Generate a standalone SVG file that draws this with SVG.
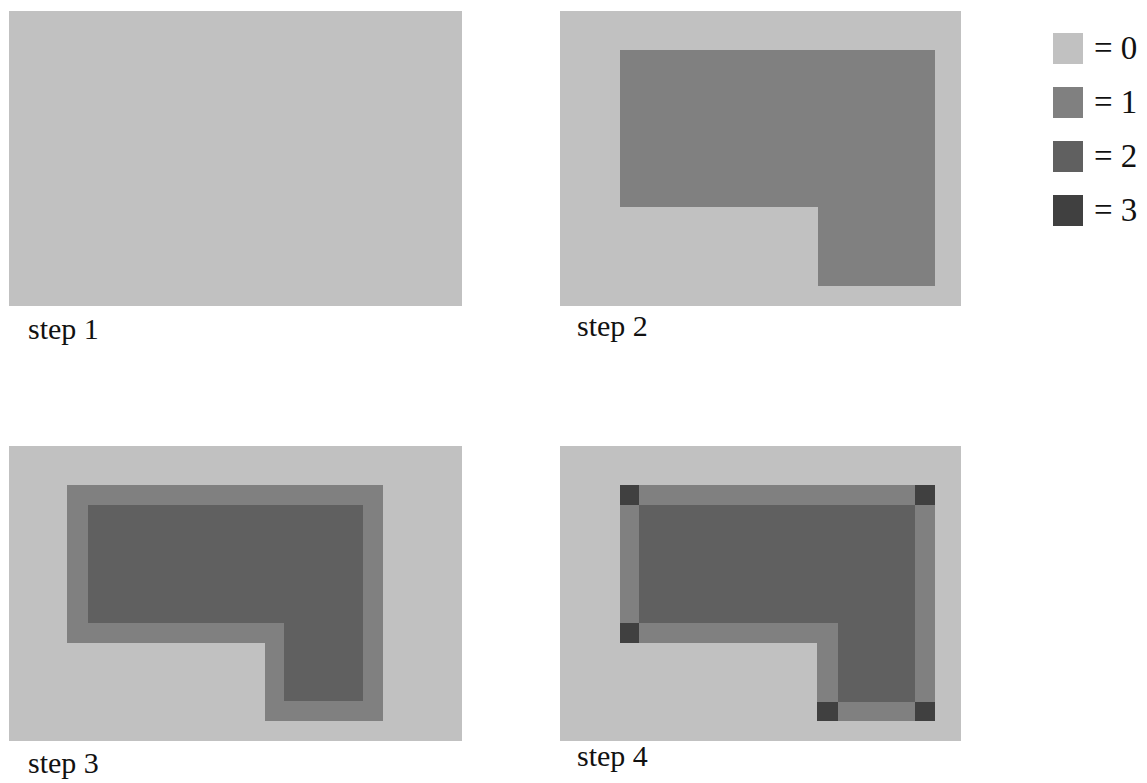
<svg xmlns="http://www.w3.org/2000/svg" width="1147" height="783" viewBox="0 0 1147 783">
<style>
.l0{fill:#c1c1c1}
.l1{fill:#808080}
.l2{fill:#606060}
.l3{fill:#404040}
.lbl{font-family:"Liberation Serif","Times New Roman",serif;font-size:30px;fill:#111111}
.leg{font-family:"Liberation Serif","Times New Roman",serif;font-size:33px;fill:#111111}
</style>
<rect width="1147" height="783" fill="#ffffff"/>
<g id="step1">
<rect class="l0" x="9" y="11" width="453" height="295"/>
<text class="lbl" x="28" y="339">step 1</text>
</g>
<g id="step2">
<rect class="l0" x="560" y="11" width="401" height="295"/>
<polygon class="l1" points="620,50 935,50 935,286 818,286 818,207 620,207"/>
<text class="lbl" x="577" y="336">step 2</text>
</g>
<g id="step3">
<rect class="l0" x="9" y="446" width="453" height="295"/>
<polygon class="l1" points="67,485 383,485 383,721 265,721 265,643 67,643"/>
<polygon class="l2" points="88,505 363,505 363,701 284,701 284,623 88,623"/>
<text class="lbl" x="28" y="773">step 3</text>
</g>
<g id="step4">
<rect class="l0" x="560" y="446" width="401" height="295"/>
<polygon class="l1" points="620,485 935,485 935,721 817,721 817,643 620,643"/>
<polygon class="l2" points="639,505 915,505 915,702 838,702 838,623 639,623"/>
<rect class="l3" x="620" y="485" width="19" height="20"/>
<rect class="l3" x="915" y="485" width="20" height="20"/>
<rect class="l3" x="620" y="623" width="19" height="20"/>
<rect class="l3" x="817" y="702" width="21" height="19"/>
<rect class="l3" x="915" y="702" width="20" height="19"/>
<text class="lbl" x="577" y="766">step 4</text>
</g>
<g id="legend">
<g id="legend0"><rect class="l0" x="1053" y="33" width="30" height="31"/><text class="leg" x="1094" y="59">= 0</text></g>
<g id="legend1"><rect class="l1" x="1053" y="87" width="30" height="31"/><text class="leg" x="1094" y="113">= 1</text></g>
<g id="legend2"><rect class="l2" x="1053" y="141" width="30" height="31"/><text class="leg" x="1094" y="167">= 2</text></g>
<g id="legend3"><rect class="l3" x="1053" y="195" width="30" height="31"/><text class="leg" x="1094" y="221">= 3</text></g>
</g>
<g id="connectors"/>
</svg>
